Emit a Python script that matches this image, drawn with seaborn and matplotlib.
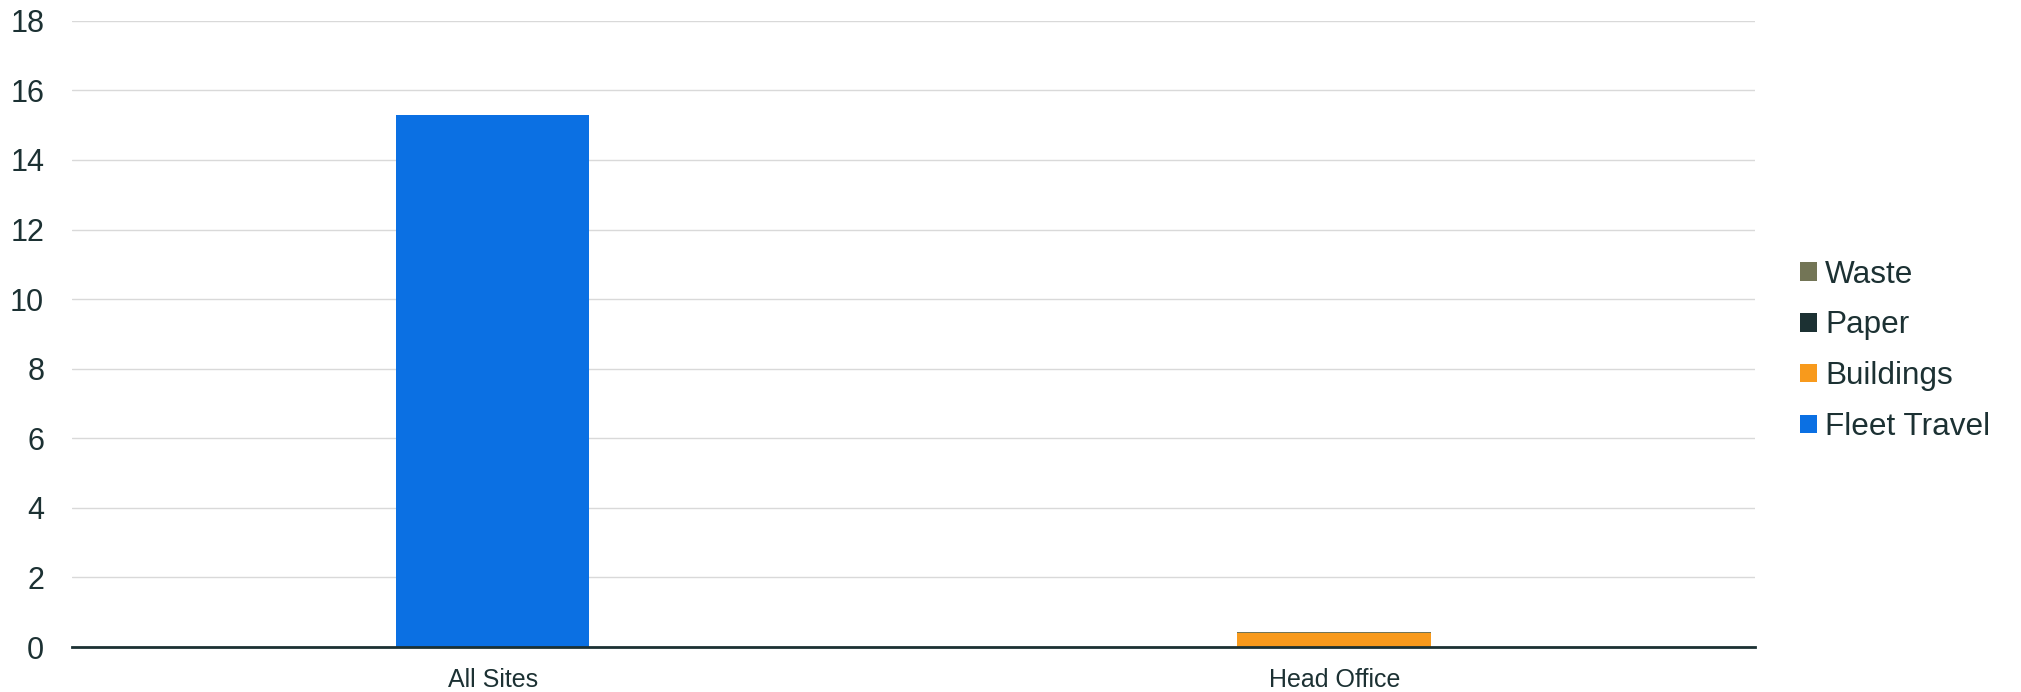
import matplotlib
matplotlib.use("Agg")
import matplotlib.pyplot as plt
import seaborn as sns
import pandas as pd
from matplotlib.patches import Patch

# データ
sites = ["All Sites", "Head Office"]
fleet_travel = [15.3, 0.0]
buildings = [0.0, 0.39]
paper = [0.0, 0.005]
waste = [0.0, 0.05]

series_names = ["Fleet Travel", "Buildings", "Paper", "Waste"]
series_values = [fleet_travel, buildings, paper, waste]
colors = ["#0b70e3", "#f89a1c", "#1c3133", "#737556"]
text_color = "#1c3133"

sns.set_style("white")
plt.rcParams["font.family"] = ["Liberation Sans", "DejaVu Sans"]

fig = plt.figure(figsize=(20.21, 6.92), dpi=100)
ax = fig.add_axes([0.0356, 0.065, 0.8328, 0.905])

# 積み上げ棒グラフ
bottom = [0.0] * len(sites)
for name, vals, col in zip(series_names, series_values, colors):
    df = pd.DataFrame({"site": sites, "value": vals})
    sns.barplot(data=df, x="site", y="value", color=col, bottom=bottom,
                width=0.23, ax=ax, linewidth=0, saturation=1, errorbar=None)
    bottom = [b + v for b, v in zip(bottom, vals)]

ax.set_ylim(0, 18)
ax.set_yticks(range(0, 19, 2))
ax.set_xlim(-0.5, 1.5)
ax.set_xlabel("")
ax.set_ylabel("")
ax.grid(axis="y", color="#d9d9d9", linewidth=1)
ax.set_axisbelow(True)
for s in ["left", "right", "top"]:
    ax.spines[s].set_visible(False)
ax.spines["bottom"].set_color(text_color)
ax.spines["bottom"].set_linewidth(2)
ax.spines["bottom"].set_zorder(5)
ax.tick_params(axis="y", length=0, pad=20, labelsize=22, labelcolor=text_color)
ax.tick_params(axis="x", length=0, pad=15, labelsize=18, labelcolor=text_color)

# 凡例 (逆順)
handles = [Patch(facecolor=c, edgecolor="none") for c in colors][::-1]
labels = series_names[::-1]
fig.legend(handles, labels, loc="center left", bbox_to_anchor=(0.8766, 0.493),
           frameon=False, fontsize=22.7, labelcolor=text_color,
           handlelength=0.54, handleheight=0.54, handletextpad=0.25,
           labelspacing=0.66)

fig.savefig("out.png", dpi=100)
